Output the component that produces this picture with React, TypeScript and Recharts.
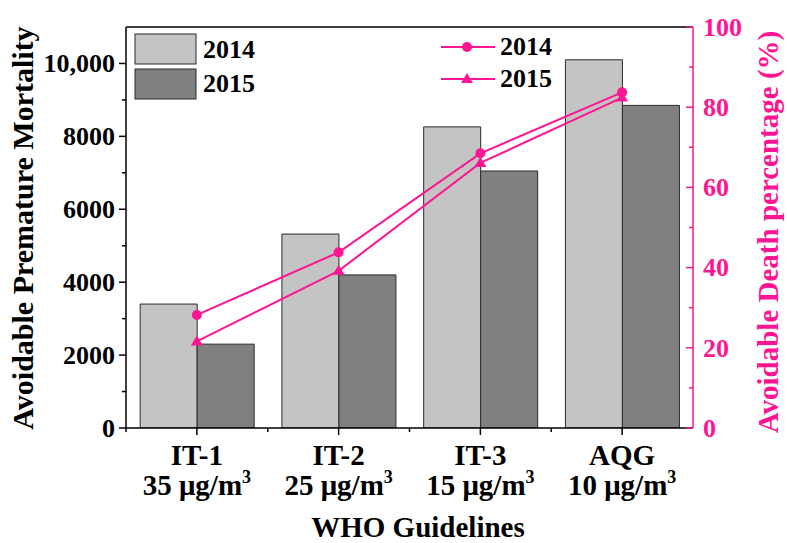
import React from "react";
import {
  ComposedChart,
  Bar,
  Line,
  XAxis,
  YAxis,
  ReferenceLine,
} from "recharts";

const categories = ["IT-1", "IT-2", "IT-3", "AQG"];
const concentrations = ["35", "25", "15", "10"];
const mortality2014 = [3400, 5320, 8260, 10100];
const mortality2015 = [2300, 4200, 7050, 8850];
const percent2014 = [28.2, 43.8, 68.5, 83.7];
const percent2015 = [21.6, 39.2, 66.1, 82.4];
const leftTicks = [0, 1000, 2000, 3000, 4000, 5000, 6000, 7000, 8000, 9000, 10000];
const rightTicks = [0, 10, 20, 30, 40, 50, 60, 70, 80, 90, 100];

const W = 787;
const H = 543;
const PLOT_LEFT = 126;
const PLOT_RIGHT = 693;
const PLOT_TOP = 27;
const PLOT_BOTTOM = 428;
const BAND = (PLOT_RIGHT - PLOT_LEFT) / categories.length;

const PINK = "#ff1493";
const LIGHT = "#c4c4c4";
const DARK = "#808080";
const FONT = "'Liberation Serif', 'Times New Roman', serif";

const data = categories.map((c, i) => ({
  cat: c,
  conc: concentrations[i],
  m2014: mortality2014[i],
  m2015: mortality2015[i],
  p2014: percent2014[i],
  p2015: percent2015[i],
}));

const fmtLeft = (v: number) => (v >= 10000 ? v.toLocaleString("en-US") : String(v));

function LeftTick(props: any) {
  const { x, y, payload } = props;
  const major = payload.value % 2000 === 0;
  return (
    <g>
      <line x1={x} x2={x - (major ? 7 : 4)} y1={y} y2={y} stroke="#000" strokeWidth={1.5} />
      {major && (
        <text x={x - 11} y={y} dy="0.34em" textAnchor="end" fontFamily={FONT} fontWeight="bold" fontSize={26} fill="#000">
          {fmtLeft(payload.value)}
        </text>
      )}
    </g>
  );
}

function RightTick(props: any) {
  const { x, y, payload } = props;
  const major = payload.value % 20 === 0;
  return (
    <g>
      <line x1={x} x2={x - (major ? 7 : 4)} y1={y} y2={y} stroke={PINK} strokeWidth={1.5} />
      {major && (
        <text x={x + 10} y={y} dy="0.34em" textAnchor="start" fontFamily={FONT} fontWeight="bold" fontSize={26} fill={PINK}>
          {payload.value}
        </text>
      )}
    </g>
  );
}

function CategoryTick(props: any) {
  const { x, y, payload, index } = props;
  const conc = concentrations[index ?? categories.indexOf(payload.value)];
  return (
    <g>
      <line x1={x} x2={x} y1={y} y2={y + 7} stroke="#000" strokeWidth={1.5} />
      <line x1={x - BAND / 2} x2={x - BAND / 2} y1={y} y2={y + 4} stroke="#000" strokeWidth={1.5} />
      <text x={x} y={y + 37} textAnchor="middle" fontFamily={FONT} fontWeight="bold" fontSize={29} fill="#000">
        {payload.value}
      </text>
      <text x={x} y={y + 67} textAnchor="middle" fontFamily={FONT} fontWeight="bold" fontSize={29} fill="#000">
        {conc} μg/m
        <tspan fontSize={18} dy={-12}>3</tspan>
      </text>
    </g>
  );
}

function TriangleDot(props: any) {
  const { cx, cy } = props;
  if (cx == null || cy == null) return null;
  return <path d={`M${cx},${cy - 6} L${cx + 6},${cy + 4} L${cx - 6},${cy + 4} Z`} fill={PINK} />;
}

function Legends() {
  return (
    <svg width={W} height={H} style={{ position: "absolute", left: 0, top: 0, pointerEvents: "none" }}>
      <rect x={135} y={34} width={61} height={30} fill={LIGHT} stroke="#2b2b2b" strokeWidth={1} />
      <rect x={135} y={69} width={61} height={30} fill={DARK} stroke="#2b2b2b" strokeWidth={1} />
      <text x={203} y={58} fontFamily={FONT} fontWeight="bold" fontSize={26}>2014</text>
      <text x={203} y={92} fontFamily={FONT} fontWeight="bold" fontSize={26}>2015</text>
      <line x1={441} x2={495} y1={47} y2={47} stroke={PINK} strokeWidth={2} />
      <circle cx={467} cy={47} r={5} fill={PINK} />
      <line x1={441} x2={495} y1={79} y2={79} stroke={PINK} strokeWidth={2} />
      <path d="M467,73 L473,83 L461,83 Z" fill={PINK} />
      <text x={500} y={55} fontFamily={FONT} fontWeight="bold" fontSize={26}>2014</text>
      <text x={500} y={87} fontFamily={FONT} fontWeight="bold" fontSize={26}>2015</text>
    </svg>
  );
}

export default function App() {
  return (
    <div style={{ position: "absolute", left: 0, top: 0, width: W, height: H, background: "#fff" }}>
      <ComposedChart
        width={W}
        height={H}
        data={data}
        margin={{ top: PLOT_TOP, right: 0, bottom: 0, left: 0 }}
        barGap={0}
        barCategoryGap="10%"
      >
        <XAxis
          dataKey="cat"
          height={H - PLOT_BOTTOM}
          interval={0}
          tickLine={false}
          tickSize={0}
          tickMargin={0}
          axisLine={{ stroke: "#000", strokeWidth: 1.5 }}
          tick={<CategoryTick />}
          label={() => (
            <text x={418} y={537} textAnchor="middle" fontFamily={FONT} fontWeight="bold" fontSize={29} fill="#000">
              WHO Guidelines
            </text>
          )}
        />
        <YAxis
          yAxisId="left"
          orientation="left"
          width={PLOT_LEFT}
          domain={[0, 11000]}
          ticks={leftTicks}
          interval={0}
          allowDataOverflow
          tickLine={false}
          tickSize={0}
          tickMargin={0}
          axisLine={{ stroke: "#000", strokeWidth: 1.5 }}
          tick={<LeftTick />}
          label={() => (
            <text x={33} y={228} transform="rotate(-90, 33, 228)" textAnchor="middle" fontFamily={FONT} fontWeight="bold" fontSize={30} fill="#000">
              Avoidable Premature Mortality
            </text>
          )}
        />
        <YAxis
          yAxisId="right"
          orientation="right"
          width={W - PLOT_RIGHT}
          domain={[0, 100]}
          ticks={rightTicks}
          interval={0}
          tickLine={false}
          tickSize={0}
          tickMargin={0}
          axisLine={{ stroke: PINK, strokeWidth: 1.5 }}
          tick={<RightTick />}
          label={() => (
            <text x={778} y={232} transform="rotate(-90, 778, 232)" textAnchor="middle" fontFamily={FONT} fontWeight="bold" fontSize={29} fill={PINK}>
              Avoidable Death percentage (%)
            </text>
          )}
        />
        <ReferenceLine yAxisId="left" y={11000} stroke="#000" strokeWidth={1.5} />
        <Bar yAxisId="left" dataKey="m2014" fill={LIGHT} stroke="#2b2b2b" strokeWidth={1} isAnimationActive={false} />
        <Bar yAxisId="left" dataKey="m2015" fill={DARK} stroke="#2b2b2b" strokeWidth={1} isAnimationActive={false} />
        <Line
          yAxisId="right"
          type="linear"
          dataKey="p2014"
          stroke={PINK}
          strokeWidth={2}
          dot={{ r: 5, fill: PINK, stroke: "none" }}
          activeDot={false}
          isAnimationActive={false}
        />
        <Line
          yAxisId="right"
          type="linear"
          dataKey="p2015"
          stroke={PINK}
          strokeWidth={2}
          dot={<TriangleDot />}
          activeDot={false}
          isAnimationActive={false}
        />
      </ComposedChart>
      <Legends />
    </div>
  );
}
